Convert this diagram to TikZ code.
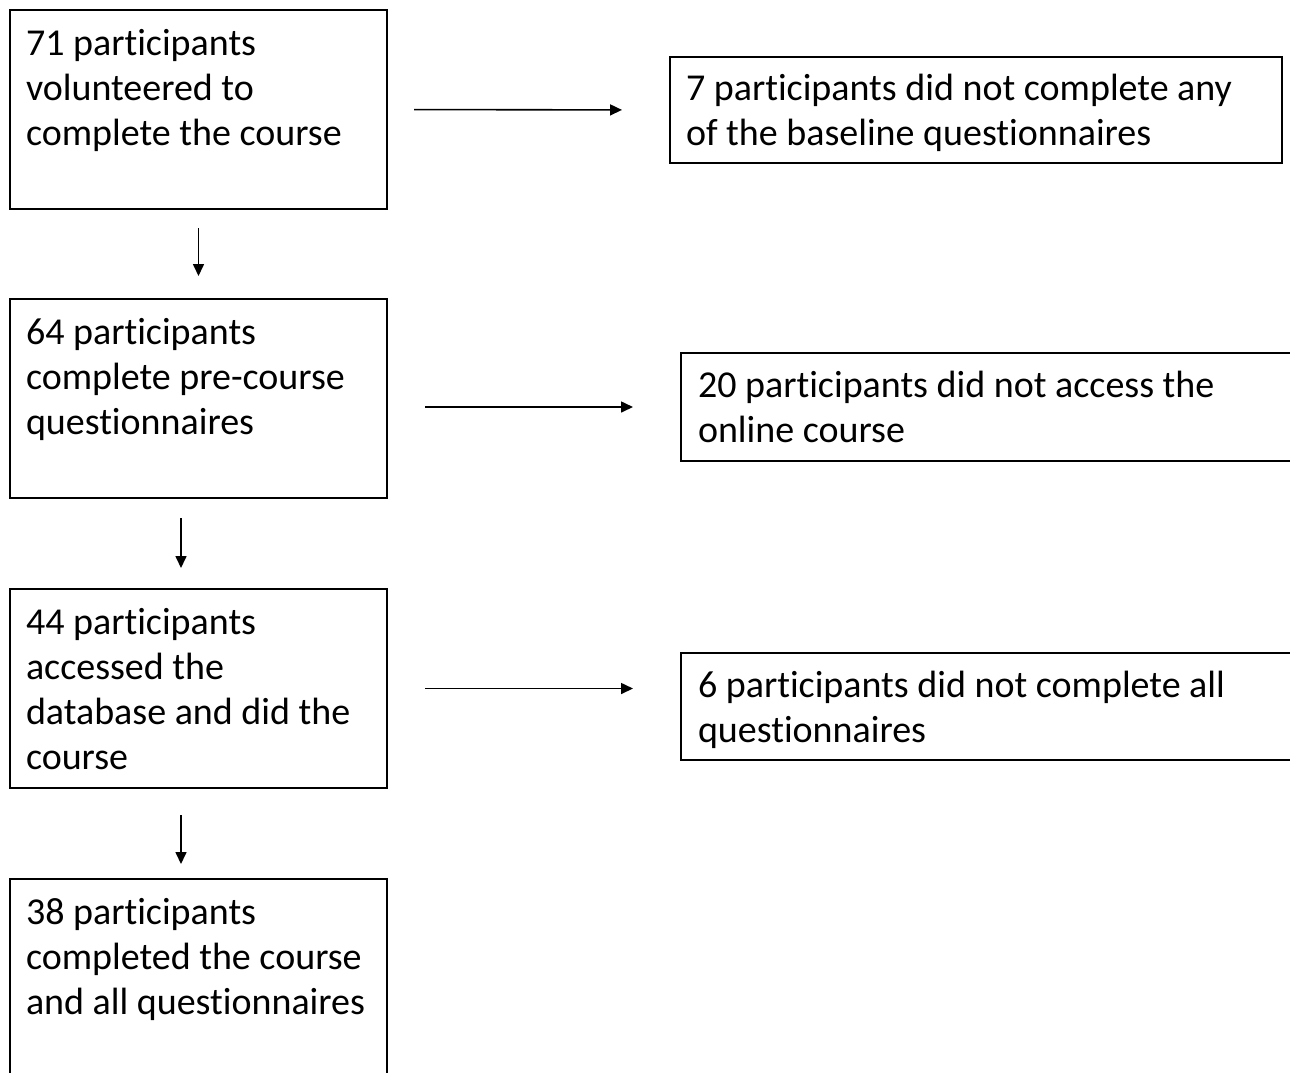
\documentclass[tikz,border=0pt]{standalone}
\usepackage{fontspec}
\setmainfont{Carlito}[Ligatures=NoCommon]
\usetikzlibrary{arrows.meta}
\begin{document}
\begin{tikzpicture}[x=1pt,y=-1pt,
  box/.style={draw, line width=2.4pt, anchor=north west, inner sep=0pt, outer sep=0pt},
  txt/.style={anchor=north west, inner sep=0pt, outer sep=0pt, align=left, font=\fontsize{38}{45}\selectfont},
  arr/.style={line width=1.6pt, -{Triangle[length=12pt,width=11pt]}}]
\useasboundingbox (0,0) rectangle (1290,1072);
\clip (0,0) rectangle (1290,1072);
% left column
\node[box, minimum width=377pt, minimum height=199pt] (b1) at (10,10) {};
\node[box, minimum width=377pt, minimum height=199pt] (b2) at (10,299) {};
\node[box, minimum width=377pt, minimum height=199pt] (b3) at (10,589) {};
\node[box, minimum width=377pt, minimum height=230pt] (b4) at (10,879) {};
% right column
\node[box, minimum width=612pt, minimum height=106pt] (bA) at (670,57) {};
\node[box, minimum width=640pt, minimum height=108pt] (bB) at (681,353) {};
\node[box, minimum width=640pt, minimum height=107pt] (bC) at (681,653) {};
% texts
\node[txt] (t1) at (26,23.5) {\strut 71 participants\\volunteered to\\complete the course};
\node[txt] (t2) at (26,312.5) {\strut 64 participants\\complete pre-course\\questionnaires};
\node[txt] (t3) at (26,602.5) {\strut 44 participants\\accessed the\\database and did the\\course};
\node[txt] (t4) at (26,892.5) {\strut 38 participants\\completed the course\\and all questionnaires};
\node[txt] (tA) at (686,68.5) {\strut 7 participants did not complete any\\of the baseline questionnaires};
\node[txt] (tB) at (698,365.5) {\strut 20 participants did not access the\\online course};
\node[txt] (tC) at (698,665.5) {\strut 6 participants did not complete all\\questionnaires};
% arrows
\draw[arr, shorten <=27pt, shorten >=48pt] (b1.east) -- (bA.west);
\draw[arr, shorten <=38pt, shorten >=48pt] (b2.east |- bB.west) -- (bB.west);
\draw[arr, shorten <=38pt, shorten >=48pt] (b3.east) -- (bC.west |- b3.east);
\draw[arr, shorten <=19pt, shorten >=23pt] (b1.south) -- (b2.north);
\draw[arr, shorten <=20pt, shorten >=21pt] ([xshift=-17.5pt]b2.south) -- ([xshift=-17.5pt]b3.north);
\draw[arr, shorten <=27pt, shorten >=15pt] ([xshift=-17.5pt]b3.south) -- ([xshift=-17.5pt]b4.north);
\end{tikzpicture}
\end{document}
